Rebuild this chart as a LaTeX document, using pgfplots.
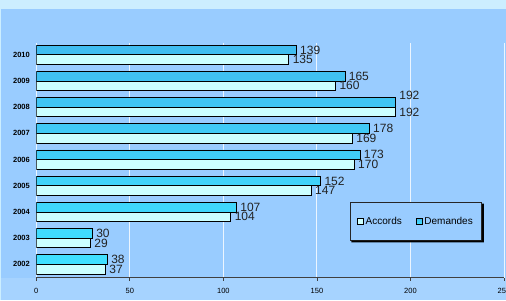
\documentclass[border=0pt]{standalone}
\usepackage{pgfplots}
\pgfplotsset{compat=1.18}
\usepackage{pgfplotstable}
\usepackage{fontspec}
\setmainfont{Liberation Sans}
\definecolor{bg}{HTML}{99CCFF}
\definecolor{bglow}{HTML}{A6D3FF}
\definecolor{topband}{HTML}{CCEEFF}
\definecolor{acc}{HTML}{CCFFFF}
\definecolor{demtop}{HTML}{40BCF0}
\definecolor{dembot}{HTML}{40E0FF}
\definecolor{lbl}{HTML}{222222}

\pgfplotstableread{
y dem acc ddy
0 38 37 0
1 30 29 0
2 107 104 0
3 152 147 0
4 173 170 0
5 178 169 0
6 192 192 6.5
7 165 160 0
8 139 135 0
}\data

\begin{document}
\begin{tikzpicture}
\useasboundingbox (0pt,0pt) rectangle (506pt,300pt);
\fill[bg] (0pt,0pt) rectangle (506pt,300pt);
\fill[bglow] (0pt,0pt) rectangle (506pt,22.3pt);
\fill[topband] (0pt,291pt) rectangle (506pt,300pt);
\fill[topband] (0pt,0pt) rectangle (1.3pt,291pt);
\begin{axis}[
  at={(36.3pt,22.3pt)}, anchor=south west,
  scale only axis, width=467.7pt, height=235pt,
  xmin=0, xmax=250, ymin=-0.51, ymax=8.46,
  xbar, bar width=9.6pt,
  axis x line*=bottom, axis y line*=left,
  y axis line style={draw=none},
  x axis line style={draw=black!75, line width=0.8pt},
  xtick={0,50,...,250},
  ytick={0,...,8},
  yticklabels={2002,2003,2004,2005,2006,2007,2008,2009,2010},
  /pgf/number format/assume math mode=true,
  xticklabel style={font=\fontsize{7.5}{8}\selectfont, yshift=-4pt},
  yticklabel style={font=\bfseries\fontsize{7.5}{8}\selectfont},
  tick align=outside, major tick length=3pt,
  xtick style={draw=black!75, line width=0.8pt},
  ytick style={draw=none},
  xmajorgrids,
  grid style={draw=white!80!bg, line width=0.9pt},
  nodes near coords,
  nodes near coords style={font=\fontsize{12}{12}\selectfont, text=lbl, anchor=west, inner xsep=3.5pt},
  legend columns=2,
  legend style={name=leg, at={(0.8117,0.24)}, anchor=center, draw=black!85, line width=0.8pt, fill=bg,
    font=\fontsize{10}{12}\selectfont, inner xsep=7pt, inner ysep=12.5pt,
    /tikz/every even column/.append style={column sep=12pt},
    nodes={inner xsep=2pt, inner ysep=2pt}},
]
\addplot[draw=black, line width=0.8pt, fill=acc, bar shift=-4.8pt,
  legend image code/.code={\draw[draw=black, fill=acc, line width=0.6pt] (0pt,-3pt) rectangle (6pt,3pt);}]
  table[x=acc, y=y] {\data};
\addlegendentry{Accords}
\addplot[draw=black, line width=0.8pt, top color=demtop, bottom color=dembot, bar shift=4.8pt,
  visualization depends on={\thisrow{ddy} \as \ddy},
  nodes near coords style={yshift=\ddy pt},
  legend image code/.code={\draw[draw=black, fill=dembot!70!demtop, line width=0.6pt] (0pt,-3pt) rectangle (6pt,3pt);}]
  table[x=dem, y=y] {\data};
\addlegendentry{Demandes}
\end{axis}
\fill[black] ([yshift=-1.6pt]leg.north east) -- ([xshift=1.8pt,yshift=-1.6pt]leg.north east)
  -- ([xshift=1.8pt,yshift=-1.8pt]leg.south east) -- ([xshift=1.6pt,yshift=-1.8pt]leg.south west)
  -- ([xshift=1.6pt]leg.south west) -- (leg.south east) -- cycle;
\end{tikzpicture}
\end{document}
